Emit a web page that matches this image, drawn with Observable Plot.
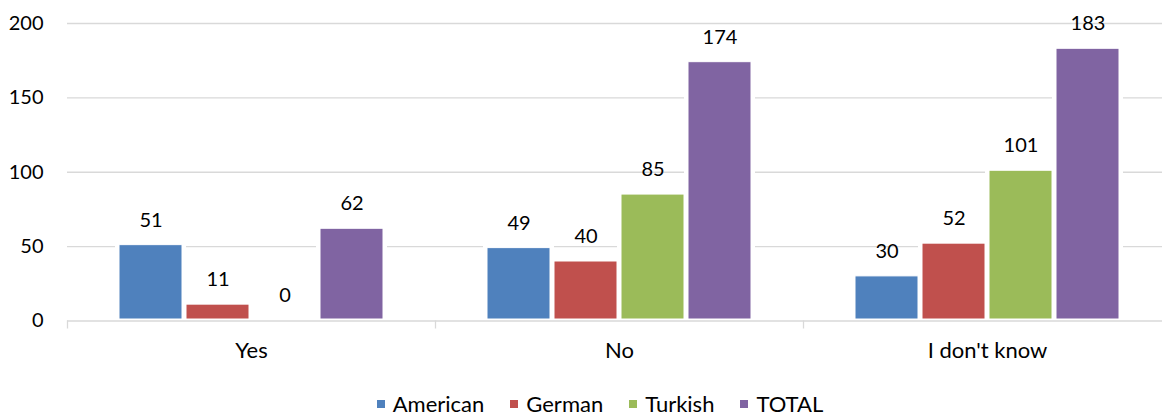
<!DOCTYPE html>
<html>
<head>
<meta charset="utf-8">
<script src="https://cdn.jsdelivr.net/npm/d3@7"></script>
<script src="https://cdn.jsdelivr.net/npm/@observablehq/plot@0.6"></script>
<style>
  body { margin: 0; background: #fff; overflow: hidden; font-family: Lato, "Open Sans", sans-serif; position: relative; width: 1162px; height: 416px; }
  #chart svg { display: block; }
  #legend { position: absolute; left: 0; right: 0; top: 393px; display: flex; justify-content: center; align-items: center; padding-left: 38px; font-size: 22px; line-height: 22px; height: 22px; color: #000; }
  #legend .item { display: flex; align-items: center; margin: 0 13px; }
  #legend .swatch { width: 8px; height: 8px; margin-right: 8px; }
</style>
</head>
<body>
<div id="chart"></div>
<div id="legend"></div>
<script>
// Survey answers per nationality
const answers = ["Yes", "No", "I don't know"];
const series = ["American", "German", "Turkish", "TOTAL"];
const american = [51, 49, 30];
const german = [11, 40, 52];
const turkish = [0, 85, 101];
const total = [62, 174, 183];
const colors = ["#4F81BD", "#C0504D", "#9BBB59", "#8064A2"];
const yTicks = [0, 50, 100, 150, 200];

const valuesBySeries = [american, german, turkish, total];
const rows = answers.flatMap((answer, i) =>
  series.map((s, j) => ({answer, series: s, value: valuesBySeries[j][i]}))
);

const left = 67, right = 1171;
const band = (right - left) / answers.length;
const grid = "#d9d9d9";

const plot = Plot.plot({
  width: 1162,
  height: 380,
  marginLeft: left,
  marginRight: 0,
  marginTop: 23,
  marginBottom: 59.5,
  style: {fontFamily: "Lato, 'Open Sans', sans-serif", fontSize: "20px", color: "#000", background: "#fff", overflow: "visible"},
  fx: {domain: answers, range: [left, right], paddingInner: 0, paddingOuter: 0, label: null, axis: null},
  x: {domain: series, paddingInner: 4 / 67, paddingOuter: 0.776, axis: null},
  y: {domain: [0, 200], label: null, axis: null},
  color: {domain: series, range: colors},
  marks: [
    Plot.ruleY(yTicks.filter(v => v > 0), {stroke: grid, strokeWidth: 1.3}),
    // white halo that breaks the gridlines around each bar
    Plot.barY(rows, {fx: "answer", x: "series", y: "value", fill: "white", inset: -4}),
    Plot.ruleY([0], {stroke: grid, strokeWidth: 1.3}),
    Plot.barY(rows.filter(d => d.value > 0), {fx: "answer", x: "series", y: "value", fill: "series", stroke: "white", strokeWidth: 1, insetBottom: 1.5}),
    Plot.text(rows, {fx: "answer", x: "series", y: "value", text: "value", dy: -25, fill: "#000"}),
    Plot.axisY({ticks: yTicks, tickSize: 0, tickPadding: 24, label: null}),
    Plot.axisFx({anchor: "bottom", tickSize: 0, tickPadding: 21, fontSize: 22, label: null}),
    Plot.axisFx({anchor: "bottom", tickSize: 8, text: null, dx: -band / 2, stroke: grid, strokeWidth: 1.3, label: null})
  ]
});
document.getElementById("chart").append(plot);

const color = plot.scale("color");
const legend = document.getElementById("legend");
series.forEach((s, i) => {
  const item = document.createElement("div");
  item.className = "item";
  const sw = document.createElement("span");
  sw.className = "swatch";
  sw.style.background = color.range[i];
  const label = document.createElement("span");
  label.textContent = s;
  item.append(sw, label);
  legend.append(item);
});
</script>
</body>
</html>
